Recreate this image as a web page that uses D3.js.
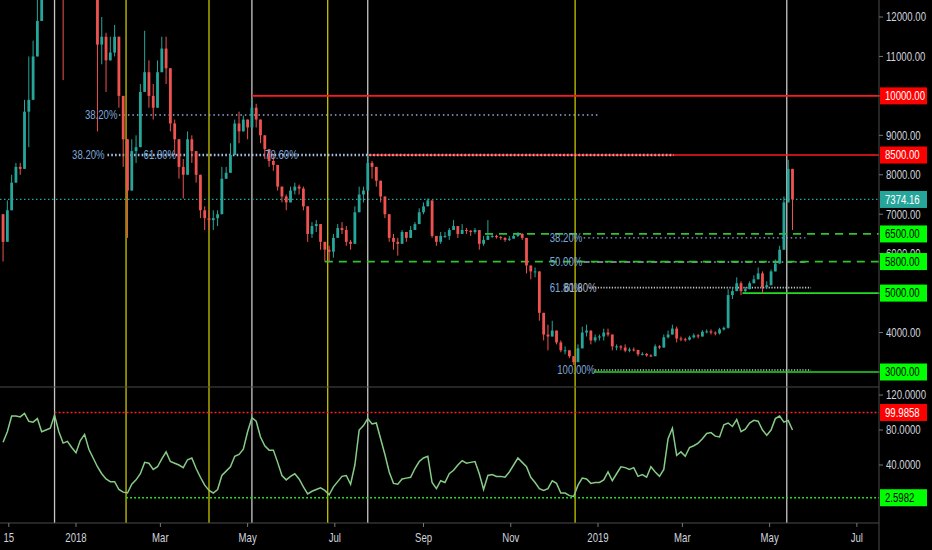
<!DOCTYPE html>
<html>
<head>
<meta charset="utf-8">
<script src="https://cdn.jsdelivr.net/npm/d3@7"></script>
<style>
  body { margin: 0; background: #000; }
  svg { display: block; font-family: "Liberation Sans", Arial, sans-serif; }
</style>
</head>
<body>
<svg id="chart"></svg>
<script>
// one candle every 3 days, first one on 11 Nov 2017
var firstDay = [2017, 10, 11];
var stepDays = 3;
var firstOpen = 7000;

var closes = [
  6300, 7100, 7800, 8200, 8150, 9600, 9900, 11000, 11900, 16000,
  16700, 16400, 19100, 16800, 13800, 15800, 14600, 13400, 15100, 16400,
  14900, 13600, 11300, 11500, 10900, 11100, 11500, 10000, 8900, 7600,
  8600, 8700, 10100, 10600, 10000, 9700, 10600, 11200, 10700, 9300,
  8900, 8200, 8000, 8900, 8600, 8000, 7100, 6900, 6850, 6900,
  7000, 7900, 8050, 8500, 9300, 9100, 9400, 9200, 9700, 9400,
  9000, 8650, 8350, 8250, 7700, 7450, 7300, 7600, 7700, 7650,
  7200, 6500, 6700, 6750, 6300, 6100, 6050, 6400, 6650, 6600,
  6300, 6250, 7050, 7500, 7600, 8300, 8200, 7850, 7450, 7000,
  6400, 6300, 6250, 6550, 6400, 6600, 6750, 7050, 7200, 7350,
  6450, 6300, 6450, 6450, 6600, 6700, 6500, 6600, 6580, 6550,
  6600, 6250, 6350, 6450, 6450, 6420, 6400, 6350, 6380, 6450,
  6500, 6400, 5700, 5550, 5550, 4500, 3950, 3900, 4050, 3750,
  3550, 3550, 3400, 3250, 3600, 4000, 4050, 3800, 3880, 3900,
  4000, 3950, 3650, 3650, 3620, 3540, 3570, 3560, 3450, 3460,
  3420, 3400, 3650, 3620, 3880, 3950, 4100, 3850, 3830, 3820,
  3880, 3930, 3900, 4020, 4030, 4000, 3980, 4080, 4120, 4950,
  5050, 5250, 5050, 5100, 5250, 5350, 5500, 5150, 5200, 5550,
  5750, 6100, 7300, 8150, 7374.16
];

var highs = [
  6700, 7350, 8000, 8300, 8300, 9900, 11000, 11400, 12500, 17000,
  17300, 17200, 19800, 17800, 15800, 16500, 15500, 14100, 15500, 17200,
  15000, 14500, 13600, 12000, 11600, 11500, 11800, 10400, 9500, 8900,
  8900, 9000, 10300, 11650, 10900, 10300, 10900, 11500, 11500, 10000,
  9400, 8900, 8400, 9100, 9000, 8400, 7800, 7200, 7100, 7100,
  7100, 8200, 8200, 8800, 9400, 9600, 9500, 9400, 9950, 9800,
  9400, 8800, 8600, 8500, 8100, 7650, 7500, 7700, 7800, 7750,
  7700, 6900, 6800, 6850, 6750, 6300, 6200, 6500, 6750, 6800,
  6700, 6350, 7200, 7700, 7700, 8500, 8350, 8200, 7650, 7200,
  6900, 6500, 6400, 6600, 6550, 6700, 6800, 7150, 7300, 7400,
  7000, 6450, 6550, 6550, 6650, 6850, 6700, 6750, 6650, 6600,
  6650, 6600, 6450, 6850, 6500, 6480, 6450, 6420, 6450, 6500,
  6550, 6520, 6400, 5700, 5650, 4900, 4400, 4200, 4300, 4000,
  3800, 3650, 3550, 3350, 3700, 4150, 4200, 3950, 3950, 3950,
  4100, 4100, 3700, 3700, 3680, 3700, 3620, 3620, 3520, 3500,
  3480, 3450, 3700, 3680, 3950, 4050, 4200, 4150, 3900, 3870,
  3920, 3980, 3960, 4060, 4080, 4080, 4030, 4120, 4150, 5100,
  5150, 5400, 5300, 5150, 5300, 5450, 5650, 5550, 5300, 5600,
  5850, 6200, 7450, 8380, 8100
];

var lows = [
  5800, 6500, 7500, 7900, 8000, 9000, 8700, 10600, 11600, 15000,
  15800, 16000, 18000, 15500, 10400, 13300, 14000, 12600, 14000, 15500,
  13100, 12900, 9100, 10800, 10100, 10900, 11000, 9700, 8200, 6400,
  8000, 8300, 9600, 10300, 9700, 9400, 10200, 10900, 10300, 9100,
  8500, 7900, 7400, 8300, 8300, 7800, 6900, 6600, 6600, 6600,
  6700, 7700, 7900, 8300, 8800, 8800, 9100, 8900, 9500, 9200,
  8800, 8400, 8200, 8100, 7600, 7300, 7100, 7400, 7500, 7500,
  7100, 6300, 6400, 6550, 6100, 5800, 5800, 5900, 6400, 6500,
  6200, 6100, 6300, 7300, 7300, 7800, 7900, 7700, 7300, 6900,
  6300, 6100, 5950, 6300, 6300, 6400, 6600, 6900, 7000, 7200,
  6400, 6200, 6250, 6400, 6350, 6600, 6400, 6500, 6500, 6450,
  6500, 6100, 6200, 6350, 6400, 6380, 6350, 6300, 6320, 6380,
  6420, 6350, 5500, 5350, 5400, 4300, 3800, 3550, 3900, 3700,
  3500, 3450, 3350, 3180, 3250, 3800, 3900, 3700, 3750, 3800,
  3800, 3900, 3550, 3550, 3550, 3500, 3500, 3520, 3400, 3420,
  3390, 3380, 3550, 3580, 3640, 3850, 3950, 3750, 3780, 3770,
  3800, 3850, 3850, 3930, 3980, 3950, 3930, 3950, 4050, 4100,
  4850, 5100, 4950, 5000, 5150, 5250, 5350, 5000, 5100, 5350,
  5600, 5800, 6200, 7800, 6600
];

// lower pane oscillator, same dates as the candles
var oscillator = [
  66, 78, 96, 96, 95, 99, 90, 89, 93, 78,
  80, 82, 97, 78, 65, 67, 60, 54, 68, 75,
  58, 48, 38, 30, 24, 21, 21, 12, 9, 8,
  18, 23, 30, 43, 42, 35, 38, 47, 55, 44,
  42, 40, 37, 46, 48, 36, 26, 17, 11, 8,
  12, 28, 33, 38, 50, 52, 58, 78, 94, 90,
  72, 62, 57, 57, 43, 28, 23, 27, 30, 24,
  15, 7, 10, 12, 14, 11, 6, 15, 21, 27,
  28, 18, 40, 80, 85, 93, 87, 88, 70, 52,
  32, 19, 18, 24, 25, 26, 36, 44, 48, 50,
  20, 13, 22, 20, 30, 34, 40, 45, 42, 43,
  44, 30, 12, 28, 29, 27, 27, 26, 32, 40,
  48, 43, 38, 26, 20, 13, 11, 13, 22, 19,
  8, 8, 5, 4, 17, 25, 24, 19, 20, 20,
  23, 32, 22, 30, 38, 37, 35, 37, 27, 29,
  26, 38, 32, 27, 35, 70, 82, 51, 55, 50,
  60, 62, 65, 70, 76, 77, 73, 72, 86, 88,
  84, 92, 78, 81, 88, 91, 90, 80, 74, 80,
  93, 96, 89, 91, 80
];

var priceTicks = [3000, 4000, 5000, 6000, 7000, 8000, 9000, 10000, 11000, 12000];
var oscTicks = [40, 80, 120];
var timeTicks = [
  [2017, 10, 15, "15"], [2018, 0, 1, "2018"], [2018, 2, 1, "Mar"], [2018, 4, 1, "May"],
  [2018, 6, 1, "Jul"], [2018, 8, 1, "Sep"], [2018, 10, 1, "Nov"], [2019, 0, 1, "2019"],
  [2019, 2, 1, "Mar"], [2019, 4, 1, "May"], [2019, 6, 1, "Jul"]
];

var lastPrice = 7374.16;
var redLevels = [[10000, [2018, 4, 4]], [8500, [2018, 6, 25]]];
var greenDashLevels = [[6500, [2018, 9, 14]], [5800, [2018, 5, 24]]];
var greenLevels = [[5000, [2019, 3, 12]], [3000, [2018, 11, 29]]];
var oscHigh = [99.9858, [2017, 11, 17]];
var oscLow = [2.5982, [2018, 1, 5]];

// fib retracement lines: price, from, to
var fibBlue = [[9516, [2018, 0, 31], [2019, 0, 1]], [6400, [2018, 11, 22], [2019, 4, 26]]];
var fibThick = [[8500, [2018, 0, 23], [2019, 1, 23]]];
var fibDashDot = [[5790, [2018, 11, 22], [2019, 4, 26]]];
var fibWhite = [[5140, [2018, 11, 26], [2019, 4, 30]], [3050, [2018, 11, 30], [2019, 4, 30]]];
var fibLabels = [
  ["38.20%", 9516, [2018, 0, 30]], ["38.20%", 8500, [2018, 0, 21]],
  ["61.80%", 8500, [2018, 2, 12]], ["78.60%", 8500, [2018, 5, 5]],
  ["38.20%", 6400, [2018, 11, 21]], ["50.00%", 5790, [2018, 11, 21]],
  ["61.80%", 5140, [2018, 11, 21]], ["100.00%", 3050, [2018, 11, 30]]
];
var fibPaleLabels = [["61.80%", 5140, [2018, 11, 31]]];

var whiteMarks = [[2017, 11, 17], [2018, 4, 4], [2018, 6, 24], [2019, 4, 13]];
var yellowMarks = [[2018, 1, 5], [2018, 3, 4], [2018, 5, 26], [2018, 11, 16]];

function day(a) { return new Date(Date.UTC(a[0], a[1], a[2])); }

var W = 932, H = 550;
var plotRight = 879, paneSplit = 387, axisY = 523;
var upColor = "#26a69a", downColor = "#ef5350";

var svg = d3.select("#chart").attr("width", W).attr("height", H);
svg.append("rect").attr("width", W).attr("height", H).attr("fill", "#000");

var x = d3.scaleUtc()
  .domain([day([2018, 0, 1]), day([2019, 0, 1])])
  .range([76, 598]);
var y = d3.scaleLinear().domain([3000, 12000]).range([372, 17]);
var yo = d3.scaleLinear().domain([0, 120]).range([500, 395]);

var defs = svg.append("defs");
defs.append("clipPath").attr("id", "top-clip")
  .append("rect").attr("x", 0).attr("y", 0).attr("width", plotRight).attr("height", paneSplit);
defs.append("clipPath").attr("id", "low-clip")
  .append("rect").attr("x", 0).attr("y", paneSplit).attr("width", plotRight).attr("height", axisY - paneSplit);

function squeezed(g, px, py, txt, anchor) {
  return g.append("text")
    .attr("transform", "translate(" + px + "," + py + ") scale(0.8,1)")
    .attr("dy", "0.36em")
    .attr("text-anchor", anchor || "start")
    .text(txt);
}

var data = closes.map(function(c, i) {
  var o = i ? closes[i - 1] : firstOpen;
  return {
    date: d3.utcDay.offset(day(firstDay), i * stepDays),
    open: o, close: c,
    high: Math.max(highs[i], o, c), low: Math.min(lows[i], o, c),
    osc: oscillator[i]
  };
});

// vertical marker lines
var marks = svg.append("g");
marks.selectAll(".ym").data(yellowMarks).join("line")
  .attr("x1", d => x(day(d))).attr("x2", d => x(day(d)))
  .attr("y1", 0).attr("y2", axisY)
  .attr("stroke", "#c9c400").attr("stroke-width", 1.3);
marks.selectAll(".wm").data(whiteMarks).join("line")
  .attr("x1", d => x(day(d))).attr("x2", d => x(day(d)))
  .attr("y1", 0).attr("y2", axisY)
  .attr("stroke", "#c8c8c8").attr("stroke-width", 1.3);

var upper = svg.append("g").attr("clip-path", "url(#top-clip)");

function hline(g, yy, x1, color, width, dash) {
  return g.append("line")
    .attr("x1", x1).attr("x2", plotRight).attr("y1", yy).attr("y2", yy)
    .attr("stroke", color).attr("stroke-width", width)
    .attr("stroke-dasharray", dash || null);
}

// fib retracements
fibThick.forEach(function(f) {
  upper.append("line").attr("x1", x(day(f[1]))).attr("x2", x(day(f[2])))
    .attr("y1", y(f[0])).attr("y2", y(f[0]))
    .attr("stroke", "#a8c0e8").attr("stroke-width", 2.6).attr("stroke-dasharray", "1.6,2.2");
});
fibBlue.forEach(function(f) {
  upper.append("line").attr("x1", x(day(f[1]))).attr("x2", x(day(f[2])))
    .attr("y1", y(f[0])).attr("y2", y(f[0]))
    .attr("stroke", "#8faad8").attr("stroke-width", 1.4).attr("stroke-dasharray", "1.5,3");
});
fibWhite.forEach(function(f) {
  upper.append("line").attr("x1", x(day(f[1]))).attr("x2", x(day(f[2])))
    .attr("y1", y(f[0])).attr("y2", y(f[0]))
    .attr("stroke", "#c8c8d0").attr("stroke-width", 1.6).attr("stroke-dasharray", "1.2,1.6");
});
fibDashDot.forEach(function(f) {
  upper.append("line").attr("x1", x(day(f[1]))).attr("x2", x(day(f[2])))
    .attr("y1", y(f[0])).attr("y2", y(f[0]))
    .attr("stroke", "#9aa8c0").attr("stroke-width", 1.4).attr("stroke-dasharray", "6,3,1.5,3");
});

// horizontal levels
greenDashLevels.forEach(l => hline(upper, y(l[0]), x(day(l[1])), "#2ec42e", 1.8, "8,6"));
greenLevels.forEach(l => hline(upper, y(l[0]), x(day(l[1])), "#22dd22", 1.6));
redLevels.forEach(l => hline(upper, y(l[0]), x(day(l[1])), "#ff1a1a", 1.6));
// overlay the dotted fib on the 8500 red line
fibThick.forEach(function(f) {
  upper.append("line").attr("x1", x(day(redLevels[1][1]))).attr("x2", x(day(f[2])))
    .attr("y1", y(f[0])).attr("y2", y(f[0]))
    .attr("stroke", "#e0c8d0").attr("stroke-width", 1.2).attr("stroke-dasharray", "1.6,2.2");
});
hline(upper, y(lastPrice), 0, upColor, 1.3, "1.5,2.5");

// candles
var candles = upper.append("g");
candles.selectAll("line").data(data).join("line")
  .attr("x1", d => x(d.date)).attr("x2", d => x(d.date))
  .attr("y1", d => y(d.high)).attr("y2", d => y(d.low))
  .attr("stroke", d => d.close >= d.open ? upColor : downColor)
  .attr("stroke-width", 1);
candles.selectAll("rect").data(data).join("rect")
  .attr("x", d => x(d.date) - 1.4)
  .attr("width", 2.8)
  .attr("y", d => y(Math.max(d.open, d.close)))
  .attr("height", d => Math.max(1, Math.abs(y(d.open) - y(d.close))))
  .attr("fill", d => d.close >= d.open ? upColor : downColor);

// fib labels
var fl = upper.append("g").attr("font-size", 12).attr("fill", "#7ea7d9");
fibLabels.forEach(f => squeezed(fl, x(day(f[2])), y(f[1]), f[0], "end"));
fibPaleLabels.forEach(f => squeezed(fl, x(day(f[2])), y(f[1]), f[0], "end").attr("fill", "#aab4c4"));

// lower pane
var lower = svg.append("g").attr("clip-path", "url(#low-clip)");
lower.append("line").attr("x1", x(day(oscHigh[1]))).attr("x2", plotRight)
  .attr("y1", yo(oscHigh[0])).attr("y2", yo(oscHigh[0]))
  .attr("stroke", "#ff2020").attr("stroke-width", 1.3).attr("stroke-dasharray", "2,2");
lower.append("line").attr("x1", x(day(oscLow[1]))).attr("x2", plotRight)
  .attr("y1", yo(oscLow[0])).attr("y2", yo(oscLow[0]))
  .attr("stroke", "#22dd22").attr("stroke-width", 1.3).attr("stroke-dasharray", "2,2");
lower.append("path")
  .datum(data)
  .attr("fill", "none")
  .attr("stroke", "#86cc86")
  .attr("stroke-width", 1.5)
  .attr("d", d3.line().x(d => x(d.date)).y(d => yo(d.osc)));

// frame lines
svg.append("line").attr("x1", 0).attr("x2", plotRight).attr("y1", paneSplit).attr("y2", paneSplit)
  .attr("stroke", "#4a4a4a").attr("stroke-width", 1);
svg.append("line").attr("x1", 0).attr("x2", plotRight).attr("y1", axisY).attr("y2", axisY)
  .attr("stroke", "#4a4a4a").attr("stroke-width", 1);
svg.append("line").attr("x1", plotRight).attr("x2", plotRight).attr("y1", 0).attr("y2", H)
  .attr("stroke", "#4a4a4a").attr("stroke-width", 1);

// time axis
var ta = svg.append("g").attr("font-size", 12).attr("fill", "#d1d4dc");
timeTicks.forEach(function(t) {
  var tx = x(day(t));
  ta.append("line").attr("x1", tx).attr("x2", tx).attr("y1", axisY).attr("y2", axisY + 4)
    .attr("stroke", "#777");
  squeezed(ta, tx, 538, t[3], "middle");
});

// price axis
var pa = svg.append("g").attr("font-size", 12).attr("fill", "#d1d4dc");
priceTicks.forEach(function(p) {
  pa.append("line").attr("x1", plotRight).attr("x2", plotRight + 4).attr("y1", y(p)).attr("y2", y(p))
    .attr("stroke", "#777");
  squeezed(pa, 886, y(p), d3.format(".2f")(p));
});
oscTicks.forEach(function(v) {
  pa.append("line").attr("x1", plotRight).attr("x2", plotRight + 4).attr("y1", yo(v)).attr("y2", yo(v))
    .attr("stroke", "#777");
  squeezed(pa, 886, yo(v), d3.format(".4f")(v));
});

function tag(yy, txt, bg, fg) {
  var g = svg.append("g");
  g.append("rect").attr("x", plotRight + 1).attr("y", yy - 8.5).attr("width", 47).attr("height", 17)
    .attr("fill", bg);
  squeezed(g, 885, yy, txt).attr("font-size", 12).attr("fill", fg);
}
redLevels.forEach(l => tag(y(l[0]), d3.format(".2f")(l[0]), "#ff0000", "#fff"));
tag(y(lastPrice), d3.format(".2f")(lastPrice), upColor, "#fff");
greenDashLevels.forEach(l => tag(y(l[0]), d3.format(".2f")(l[0]), "#00ff00", "#000"));
greenLevels.forEach(l => tag(y(l[0]), d3.format(".2f")(l[0]), "#00ff00", "#000"));
tag(yo(oscHigh[0]), d3.format(".4f")(oscHigh[0]), "#ff0000", "#fff");
tag(yo(oscLow[0]), d3.format(".4f")(oscLow[0]), "#00ff00", "#000");
</script>
</body>
</html>
